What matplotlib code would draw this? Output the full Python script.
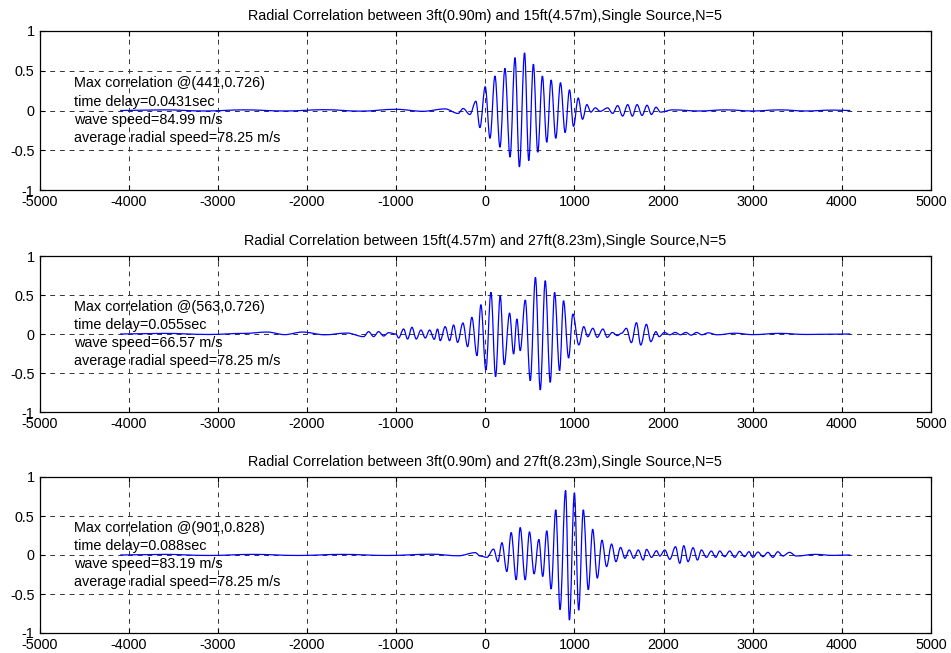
import numpy as np
import matplotlib
matplotlib.use('Agg')
import matplotlib.pyplot as plt
from matplotlib.path import Path
from matplotlib.patches import PathPatch

plt.rcParams['font.family'] = ['Liberation Sans', 'DejaVu Sans']
plt.rcParams['font.size'] = 10.4

# lag values / correlation extremes
lag_1 = [-4095, -3600, -3150, -2700, -2250, -1800, -1400, -1000, -700, -450,
         -304, -248, -173, -105, -60, 0, 53, 109, 165, 221, 278, 334, 383, 441,
         488, 540, 589, 641, 690, 739, 791, 844, 896, 945, 990, 1043, 1091,
         1140, 1185, 1234, 1290, 1373, 1429, 1485, 1541, 1598, 1650, 1703,
         1759, 1815, 1864, 1916, 1965, 2100, 2400, 2700, 3000, 3300, 3600,
         3900, 4095]
corr_1 = [0.0, 0.008, -0.006, 0.008, -0.006, 0.01, -0.008, 0.015, -0.01, 0.02,
          -0.037, 0.025, -0.05, 0.116, -0.215, 0.30, -0.35, 0.434, -0.463,
          0.53, -0.587, 0.665, -0.71, 0.726, -0.63, 0.583, -0.525, 0.434,
          -0.40, 0.384, -0.35, 0.35, -0.277, 0.26, -0.2, 0.157, -0.11, 0.074,
          -0.02, 0.033, -0.01, 0.033, -0.037, 0.062, -0.07, 0.074, -0.07,
          0.074, -0.062, 0.066, -0.05, 0.041, -0.02, 0.008, -0.006, 0.008,
          -0.006, 0.008, -0.006, 0.005, 0.0]

lag_2 = [-4095, -3600, -3100, -2700, -2445, -2250, -2052, -1800, -1550,
         -1364, -1308, -1252, -1196, -1140, -1084, -1002, -972, -916, -871,
         -822, -774, -721, -673, -624, -572, -535, -505, -449, -400, -355,
         -310, -250, -198, -150, -93, -49, 7, 64, 116, 168, 213, 273, 318,
         355, 392, 449, 505, 563, 617, 673, 729, 778, 834, 878, 935, 983,
         1049, 1105, 1150, 1207, 1256, 1320, 1368, 1425, 1481, 1530, 1583,
         1639, 1696, 1744, 1808, 1857, 1914, 1951, 2010, 2070, 2130, 2190,
         2250, 2310, 2370, 2430, 2500, 2600, 2800, 3000, 3300, 3600, 4095]
corr_2 = [0.0, 0.008, -0.006, 0.008, 0.025, -0.008, 0.025, -0.01, 0.012,
          -0.034, 0.03, -0.034, 0.03, -0.026, 0.017, 0.0, -0.051, 0.064,
          -0.064, 0.085, -0.064, 0.051, -0.051, 0.051, -0.068, 0.064, -0.085,
          0.094, -0.085, 0.115, -0.107, 0.141, -0.162, 0.214, -0.278, 0.376,
          -0.462, 0.534, -0.547, 0.491, -0.393, 0.269, -0.256, 0.192, -0.214,
          0.436, -0.598, 0.726, -0.718, 0.684, -0.62, 0.534, -0.47, 0.427,
          -0.308, 0.256, -0.14, 0.094, -0.034, 0.073, -0.043, 0.064, -0.043,
          0.02, -0.02, 0.01, 0.073, -0.111, 0.145, -0.141, 0.124, -0.098,
          0.03, -0.034, 0.02, -0.01, 0.02, -0.01, 0.02, -0.015, 0.02, -0.01,
          0.015, -0.01, 0.01, -0.008, 0.008, -0.006, 0.0]

lag_3 = [-4095, -3600, -3100, -2600, -2100, -1600, -1100, -600, -300, -112,
         -56, 19, 93, 142, 187, 242, 291, 347, 392, 448, 496, 548, 601, 645,
         690, 739, 791, 839, 901, 944, 1000, 1048, 1100, 1156, 1205, 1257,
         1309, 1361, 1417, 1466, 1518, 1567, 1615, 1667, 1716, 1772, 1809,
         1865, 1921, 1958, 2014, 2070, 2134, 2182, 2227, 2275, 2331, 2380,
         2425, 2480, 2536, 2585, 2630, 2686, 2742, 2798, 2853, 2909, 2958,
         3003, 3059, 3115, 3171, 3226, 3282, 3338, 3413, 3488, 3700, 3900,
         4095]
corr_3 = [0.0, 0.008, -0.006, 0.008, -0.006, 0.008, -0.006, 0.01, -0.01, 0.03,
          -0.013, -0.03, 0.076, -0.085, 0.157, -0.212, 0.288, -0.318, 0.352,
          -0.318, 0.297, -0.242, 0.2, -0.275, 0.31, -0.436, 0.58, -0.70,
          0.828, -0.835, 0.797, -0.708, 0.58, -0.445, 0.331, -0.297, 0.19,
          -0.148, 0.14, -0.085, 0.097, -0.042, 0.064, -0.042, 0.064, -0.064,
          0.072, -0.03, 0.055, -0.013, 0.064, -0.055, 0.106, -0.106, 0.119,
          -0.085, 0.093, -0.064, 0.064, -0.03, 0.051, -0.03, 0.051, -0.021,
          0.051, -0.03, 0.047, -0.021, 0.042, -0.03, 0.038, -0.021, 0.034,
          -0.03, 0.042, -0.013, 0.034, -0.013, 0.008, -0.005, 0.0]

titles = [
    'Radial Correlation between 3ft(0.90m) and 15ft(4.57m),Single Source,N=5',
    'Radial Correlation between 15ft(4.57m) and 27ft(8.23m),Single Source,N=5',
    'Radial Correlation between 3ft(0.90m) and 27ft(8.23m),Single Source,N=5',
]
notes = [
    ['Max correlation @(441,0.726)', 'time delay=0.0431sec',
     'wave speed=84.99 m/s', 'average radial speed=78.25 m/s'],
    ['Max correlation @(563,0.726)', 'time delay=0.055sec',
     'wave speed=66.57 m/s', 'average radial speed=78.25 m/s'],
    ['Max correlation @(901,0.828)', 'time delay=0.088sec',
     'wave speed=83.19 m/s', 'average radial speed=78.25 m/s'],
]

x_ticks = np.arange(-5000, 5001, 1000)
y_ticks = [-1, -0.5, 0, 0.5, 1]
y_tick_labels = ['-1', '-0.5', '0', '0.5', '1']


def smooth_path(xs, ys):
    # cubic segments with flat tangents at every peak/trough
    verts = [(xs[0], ys[0])]
    codes = [Path.MOVETO]
    for x0, y0, x1, y1 in zip(xs[:-1], ys[:-1], xs[1:], ys[1:]):
        d = (x1 - x0) * 0.36
        verts += [(x0 + d, y0), (x1 - d, y1), (x1, y1)]
        codes += [Path.CURVE4] * 3
    return Path(verts, codes)


fig = plt.figure(figsize=(9.51, 6.53), dpi=100)
# axes boxes in figure pixels: (top, height)
boxes = [(31, 159), (256, 156), (477, 156)]
series = [(lag_1, corr_1), (lag_2, corr_2), (lag_3, corr_3)]

for i, (top, h) in enumerate(boxes):
    ax = fig.add_axes([39.5 / 951, 1 - (top + h) / 653, 891.5 / 951, h / 653])
    lags, corr = series[i]
    ax.add_patch(PathPatch(smooth_path(lags, corr), fill=False,
                           edgecolor='#0000ff', lw=0.9, zorder=3))
    ax.set_xlim(-5000, 5000)
    ax.set_ylim(-1, 1)
    ax.set_xticks(x_ticks)
    ax.set_xticklabels([str(t) for t in x_ticks])
    ax.set_yticks(y_ticks)
    ax.set_yticklabels(y_tick_labels)
    ax.tick_params(direction='in', length=3.5, width=0.8, labelsize=10.4,
                   top=True, right=True)
    ax.tick_params(axis='x', pad=3.5)
    ax.tick_params(axis='y', pad=3.5)
    ax.grid(True, color='#333333', linestyle=(0, (5, 5)), lw=0.7)
    for s in ax.spines.values():
        s.set_linewidth(0.9)
    ax.set_title(titles[i], fontsize=10.4, pad=8)
    for k, line in enumerate(notes[i]):
        ax.text(-4610, 0.34 - 0.228 * k, line, fontsize=10.4, va='center', ha='left')

fig.savefig('out.png', dpi=100)
